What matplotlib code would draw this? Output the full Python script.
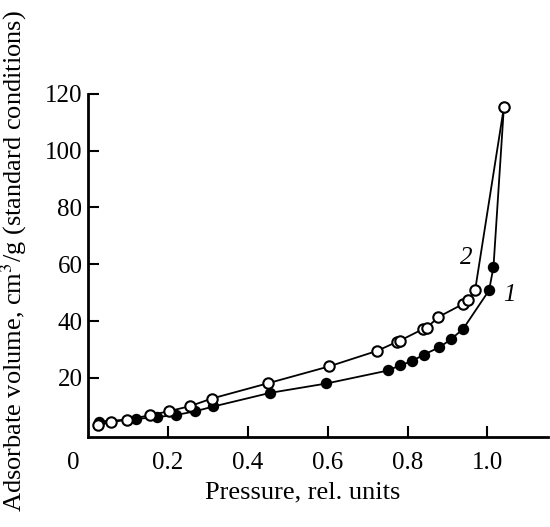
import matplotlib
matplotlib.use("Agg")
import matplotlib.pyplot as plt

# curve 1 (filled circles)
p1 = [0.028, 0.120, 0.173, 0.220, 0.268, 0.314, 0.456, 0.597, 0.752, 0.781,
      0.810, 0.841, 0.879, 0.908, 0.939, 1.004, 1.015, 1.041]
v1 = [4.6, 5.5, 6.2, 6.9, 8.2, 9.9, 14.7, 18.0, 22.6, 24.4,
      25.8, 28.2, 30.7, 33.5, 37.2, 50.8, 59.0, 115.2]

# curve 2 (open circles)
p2 = [0.024, 0.058, 0.097, 0.155, 0.204, 0.255, 0.310, 0.451, 0.603, 0.724,
      0.774, 0.781, 0.839, 0.848, 0.877, 0.939, 0.950, 0.969, 1.041]
v2 = [3.5, 4.3, 5.3, 6.8, 8.3, 10.0, 12.7, 18.1, 24.0, 29.5,
      32.7, 33.1, 37.2, 37.6, 41.4, 46.0, 47.3, 50.8, 115.2]

xticks = [0.2, 0.4, 0.6, 0.8, 1.0]
yticks = [20, 40, 60, 80, 100, 120]

plt.rcParams['font.family'] = ['Liberation Serif', 'DejaVu Serif']
plt.rcParams['mathtext.fontset'] = 'stix'

fig = plt.figure(figsize=(5.5, 5.27), dpi=100)
ax = fig.add_axes([0.16, 0.171, 0.836, 0.651])

ax.plot(p1, v1, '-o', color='black', lw=1.3, ms=7, mfc='black', mec='black', mew=1.2, zorder=2)
ax.plot(p2, v2, '-o', color='black', lw=1.3, ms=7.5, mfc='white', mec='black', mew=1.5, zorder=3)

ax.text(0.946, 62.3, '2', fontsize=18, style='italic', ha='center', va='center')
ax.text(1.054, 49.3, '1', fontsize=18, style='italic', ha='center', va='center')

ax.set_xlim(0, 1.151)
ax.set_ylim(-0.8, 120)
ax.set_xticks(xticks)
ax.set_xticklabels(['0.2', '0.4', '0.6', '0.8', '1.0'])
ax.set_yticks(yticks)
ax.tick_params(direction='in', length=8, width=1.5, labelsize=18, pad=11)
ax.tick_params(axis='y', pad=4)
for s in ['top', 'right']:
    ax.spines[s].set_visible(False)
for s in ['left', 'bottom']:
    ax.spines[s].set_linewidth(2)

fig.text(73 / 550, 1 - 463 / 527, '0', fontsize=18, ha='center', va='center')
fig.text(303 / 550, 1 - 492 / 527, 'Pressure, rel. units', fontsize=19, ha='center', va='center')
fig.text(14 / 550, 0.505, 'Adsorbate volume, cm$^3$/g (standard conditions)', fontsize=19,
         rotation=90, ha='center', va='center')

fig.savefig('out.png', dpi=100)
